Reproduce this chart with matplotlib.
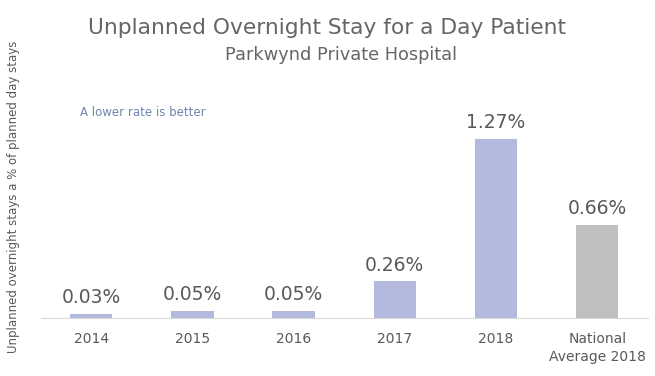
import matplotlib
matplotlib.use("Agg")
import matplotlib.pyplot as plt

categories = ["2014", "2015", "2016", "2017", "2018", "National\nAverage 2018"]
rates = [0.03, 0.05, 0.05, 0.26, 1.27, 0.66]
labels = ["0.03%", "0.05%", "0.05%", "0.26%", "1.27%", "0.66%"]

plt.rcParams['font.family'] = ['DejaVu Sans']

bar_colors = ["#b4b9de"] * 5 + ["#bfbfbf"]
text_grey = "#595959"

fig = plt.figure(figsize=(6.55, 3.76), dpi=100)
ax = fig.add_axes([0.062, 0.154, 0.927, 0.599])

x = range(len(categories))
bars = ax.bar(x, rates, width=0.42, color=bar_colors)
for b, lab in zip(bars, labels):
    ax.annotate(lab, (b.get_x() + b.get_width() / 2, b.get_height()),
                xytext=(0, 5), textcoords="offset points",
                ha="center", va="bottom", fontsize=13.5, color=text_grey)

ax.set_xlim(-0.5, len(categories) - 0.5)
ax.set_ylim(0, 1.6)
ax.set_xticks(list(x))
ax.set_xticklabels(categories, fontsize=10, color=text_grey, linespacing=1.4)
ax.tick_params(axis="x", length=0, pad=10)
ax.set_yticks([])
for side in ["top", "right", "left"]:
    ax.spines[side].set_visible(False)
ax.spines["bottom"].set_color("#d9d9d9")

fig.text(0.5, 0.925, "Unplanned Overnight Stay for a Day Patient",
         ha="center", va="center", fontsize=15.7, color="#666666")
fig.text(0.521, 0.853, "Parkwynd Private Hospital",
         ha="center", va="center", fontsize=12.8, color="#666666")
fig.text(0.122, 0.702, "A lower rate is better",
         ha="left", va="center", fontsize=8.5, color="#6f86ad")
fig.text(0.021, 0.476, "Unplanned overnight stays a % of planned day stays",
         rotation=90, ha="center", va="center", fontsize=8.5, color=text_grey)

fig.savefig("out.png", dpi=100)
